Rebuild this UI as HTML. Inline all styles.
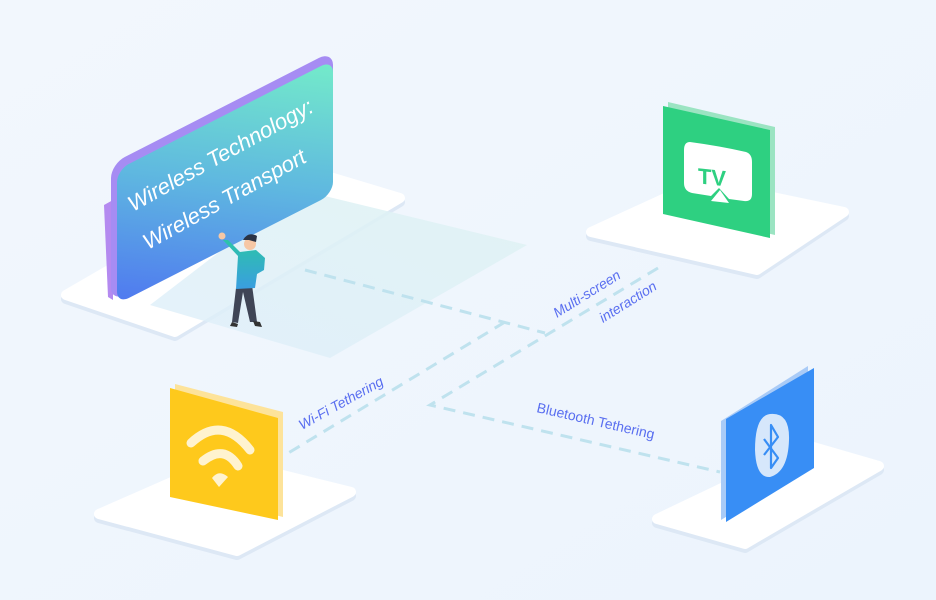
<!DOCTYPE html>
<html><head><meta charset="utf-8"><style>
html,body{margin:0;padding:0;width:936px;height:600px;overflow:hidden;background:#eef5fd}
svg{display:block}
</style></head><body>
<svg width="936" height="600" viewBox="0 0 936 600" xmlns="http://www.w3.org/2000/svg">
<defs>
<linearGradient id="bg" x1="0" y1="0" x2="1" y2="1"><stop offset="0" stop-color="#f2f7fd"/><stop offset="1" stop-color="#ecf4fd"/></linearGradient>
<linearGradient id="panel" x1="1" y1="0" x2="0" y2="1"><stop offset="0" stop-color="#74ecc9"/><stop offset="0.5" stop-color="#5fb8e0"/><stop offset="1" stop-color="#4f78f0"/></linearGradient>
<linearGradient id="floor" x1="0" y1="1" x2="1" y2="0"><stop offset="0" stop-color="#deeefa" stop-opacity="0.8"/><stop offset="1" stop-color="#dff3f3" stop-opacity="0.9"/></linearGradient>
<linearGradient id="shirt" x1="0" y1="0" x2="0" y2="1"><stop offset="0" stop-color="#2cc4a8"/><stop offset="1" stop-color="#3a9ee0"/></linearGradient>
</defs>
<rect width="936" height="600" fill="url(#bg)"/>

<!-- platforms -->
<g stroke-linejoin="round">
<path d="M66,299 L175,336 L400,202 L290,169 Z" fill="#dde8f5" stroke="#dde8f5" stroke-width="10"/>
<path d="M66,295 L175,332 L400,198 L290,165 Z" fill="#ffffff" stroke="#ffffff" stroke-width="10"/>
<path d="M591,236 L757,274 L844,216 L700,186 Z" fill="#dde8f5" stroke="#dde8f5" stroke-width="10"/>
<path d="M591,232 L757,270 L844,212 L700,182 Z" fill="#ffffff" stroke="#ffffff" stroke-width="10"/>
<path d="M99,518 L237,555 L351,496 L222,464 Z" fill="#dde8f5" stroke="#dde8f5" stroke-width="10"/>
<path d="M99,514 L237,551 L351,492 L222,460 Z" fill="#ffffff" stroke="#ffffff" stroke-width="10"/>
<path d="M657,523 L745,548 L879,470 L810,450 Z" fill="#dde8f5" stroke="#dde8f5" stroke-width="10"/>
<path d="M657,519 L745,544 L879,466 L810,446 Z" fill="#ffffff" stroke="#ffffff" stroke-width="10"/>
</g>

<!-- floor shade -->
<path d="M300,190 L527,245 L330,358 L150,305 Z" fill="url(#floor)"/>

<!-- dashed connectors -->
<g stroke="#bfe2ee" stroke-width="3" stroke-dasharray="12,8" fill="none">
<path d="M305,270 L545,333"/>
<path d="M505,322 L285,455"/>
<path d="M658,268 L430,405 L720,472"/>
</g>

<!-- sign panel -->
<path d="M104,205 L113,200 L113,300 L108,297 Z" fill="#b48af0"/>
<rect x="0" y="0" width="222" height="138" rx="14" fill="#a68cf3" transform="matrix(1,-0.51,0,1,111,164)"/>
<rect x="0" y="0" width="216" height="134" rx="12" fill="url(#panel)" transform="matrix(1,-0.51,0,1,117,170)"/>
<g font-family="Liberation Sans, sans-serif" font-style="italic" font-size="22" fill="#ffffff">
<text transform="translate(133,212) rotate(-29)">Wireless Technology:</text>
<text transform="translate(148,250) rotate(-29)">Wireless Transport</text>
</g>

<!-- person -->
<g>
<path d="M236,288 L232,322 L238,323 L243,292 L250,322 L257,322 L252,285 Z" fill="#3f4556"/>
<path d="M232,322 L238,324 L237,327 L230,326 Z" fill="#333"/>
<path d="M253,321 L260,322 L262,327 L255,326 Z" fill="#333"/>
<path d="M223,240 L228,240 L240,252 L256,250 L265,258 L264,270 L257,274 L255,288 L236,289 L238,256 Z" fill="url(#shirt)"/>
<circle cx="222" cy="236" r="3.5" fill="#f6c7a5"/>
<circle cx="250" cy="244" r="6" fill="#f6c7a5"/>
<path d="M243,240 Q248,231 257,236 L256,242 L249,240 Z" fill="#2b3345"/>
</g>

<!-- TV panel -->
<path d="M668,102 L775,127 L775,235 L668,210 Z" fill="#9be4c2"/>
<path d="M663,106 L770,130 L770,238 L663,214 Z" fill="#2ed081"/>
<path d="M690,142 Q720,146 746,152 Q752,154 752,162 L752,194 Q752,202 744,201 L729,199 L719,188 L711,196 L692,193 Q684,191 684,183 L684,150 Q684,142 690,142 Z" fill="#ffffff"/>
<text x="698" y="186" font-family="Liberation Sans, sans-serif" font-weight="bold" font-size="22" fill="#2ed081" transform="skewY(6) translate(0,-76)">TV</text>
<path d="M711,201 L720,190 L729,203 Z" fill="#ffffff"/>

<!-- WiFi panel -->
<path d="M175,384 L283,412 L283,517 L175,490 Z" fill="#fde39a"/>
<path d="M170,388 L278,418 L278,520 L170,497 Z" fill="#fec91c"/>
<g fill="none" stroke="#fff3cf" stroke-linecap="round" stroke-width="9">
<path d="M191,443 Q222,414 250,450"/>
<path d="M203,461 Q224,444 238,466"/>
</g>
<path d="M212,478 Q219,469 228,477 L219,487 Z" fill="#fff3cf"/>

<!-- Bluetooth panel -->
<path d="M721,421 L808,366 L808,466 L721,520 Z" fill="#a9cbf7"/>
<path d="M726,419 L814,368 L814,468 L726,522 Z" fill="#388ef5"/>
<path d="M770,414 Q790,412 789,440 Q788,472 770,477 Q756,478 755,450 Q755,416 770,414 Z" fill="#d6e7fb"/>
<path d="M764,439 L778,458 L771,468 L771,425 L778,437 L764,455" fill="none" stroke="#388ef5" stroke-width="2.2" stroke-linejoin="round"/>

<!-- labels -->
<g font-family="Liberation Sans, sans-serif" font-size="14" fill="#5a6ff0">
<text transform="translate(557,318) rotate(-32)" font-style="italic">Multi-screen</text>
<text transform="translate(603,323) rotate(-32)" font-style="italic">interaction</text>
<text transform="translate(302,430) rotate(-29)" font-style="italic">Wi-Fi Tethering</text>
<text transform="translate(536,412) rotate(13)">Bluetooth Tethering</text>
</g>
</svg>
</body></html>
